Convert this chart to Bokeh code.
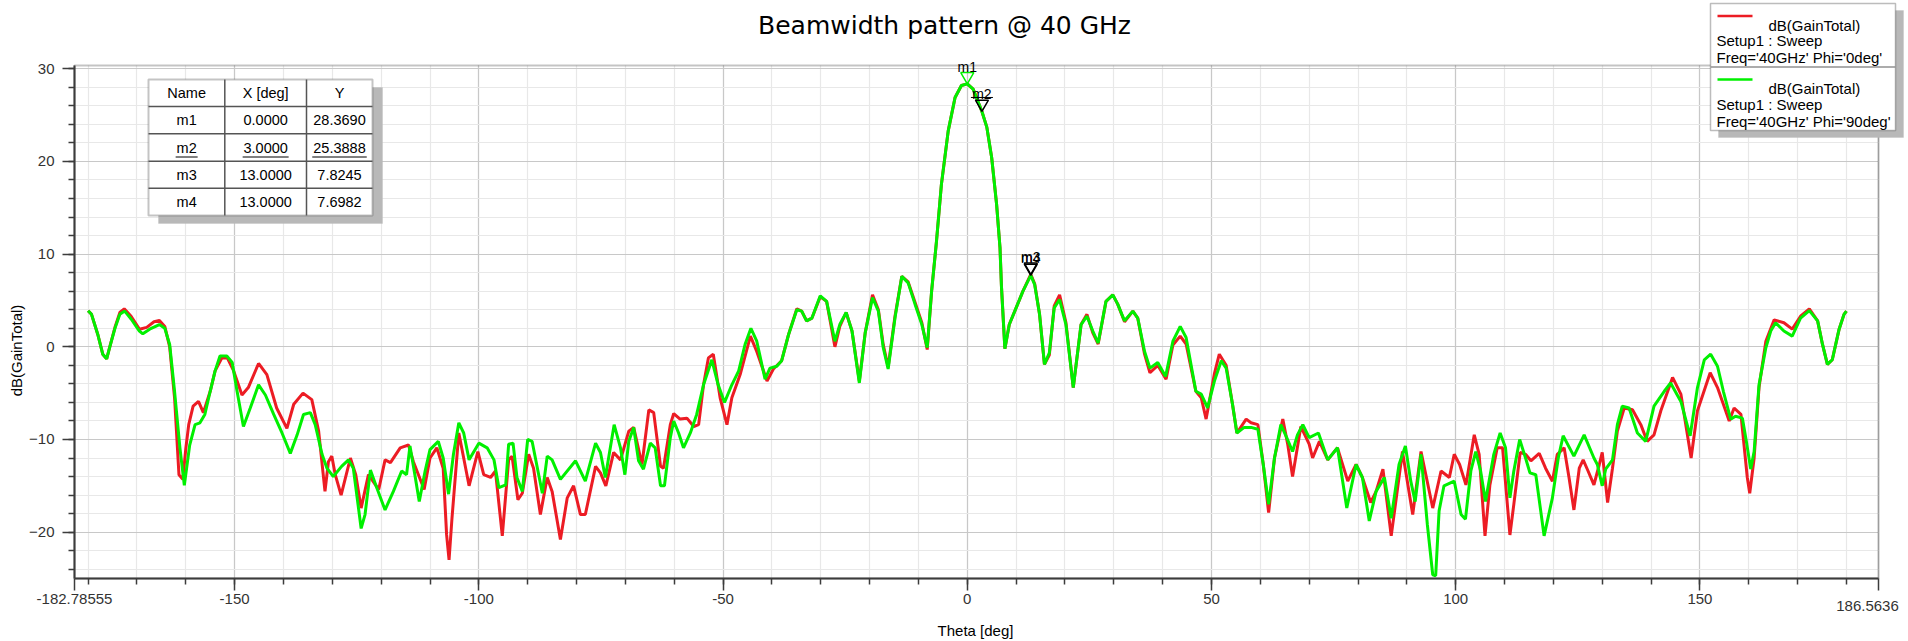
import math
from bokeh.plotting import figure
from bokeh.models import (Range1d, FixedTicker, CustomJSTickFormatter, Label,
                          BoxAnnotation, Arrow, Grid)
from bokeh.embed import file_html
from bokeh.resources import INLINE

# ---------------- data ----------------
theta_phi0 = [-180, -179.3, -178, -177, -176.2, -175.6, -174.5, -173.5, -172.6, -171.2,
              -169.5, -168, -166.5, -165.4, -164.3, -163.3, -162.3, -161.4, -160.6, -160.0,
              -159.4, -158.5, -157.4, -156.4, -155, -154, -152.6, -151.5, -150.2, -148.5,
              -147.2, -145.1, -143.4, -141.4, -139.3, -137.9, -136, -134.2, -132.8, -131.5,
              -130.8, -130.1, -129.4, -128.2, -126.3, -125.2, -124.1, -122.6, -120.5, -119.2,
              -118.1, -116.1, -114.4, -113.4, -111.2, -110, -108.6, -107.3, -106.6, -106.1,
              -105.5, -104.1, -102, -100.2, -99, -97.6, -96.6, -95.2, -93.9, -93.2,
              -92, -91.1, -89.8, -88.8, -87.4, -86, -85, -83.3, -81.9, -80.6,
              -79.2, -78.2, -76.1, -75.1, -74, -72.4, -71, -69.3, -68.3, -66.6,
              -65.2, -64.2, -62.8, -62.2, -60.8, -60.1, -58.8, -57.4, -56.0, -55,
              -54, -53, -52, -50.6, -49.2, -48.2, -46.5, -44.4, -43.1, -41.0,
              -39.7, -38, -36.6, -34.9, -33.9, -32.9, -31.8, -30.1, -28.8, -27.1,
              -26.1, -24.8, -23.6, -22.1, -20.9, -19.4, -18.2, -17.2, -16.2, -14.8,
              -13.4, -12.1, -10.7, -9.3, -8.2, -7.3, -6.3, -5.3, -3.9, -2.5,
              -1.2, 0, 1.2, 3, 4.0, 5.0, 6.0, 6.7, 7.0, 7.7,
              8.6, 10, 11.4, 13, 13.8, 14.8, 15.8, 16.8, 17.8, 18.9,
              20.2, 21.7, 23.3, 24.5, 25.7, 26.8, 28.4, 29.8, 30.8, 32.2,
              33.9, 34.9, 36.3, 37.4, 39, 40.7, 42.1, 43.6, 44.8, 46.8,
              47.9, 48.9, 50.6, 51.6, 53, 54.3, 55.2, 57.1, 58.1, 59.5,
              60.6, 61.7, 62.9, 64.6, 65.6, 66.6, 68.3, 70, 70.7, 72.1,
              73.8, 75.8, 77.9, 79.6, 80.9, 82.6, 83.7, 85.1, 86.8, 89.1,
              91.2, 92.9, 95.3, 97, 98.7, 99.7, 100.8, 102.1, 103.8, 104.8,
              106, 107, 108.5, 109.6, 111.1, 111.9, 113.2, 114.3, 115.4, 117.1,
              118.4, 119.8, 120.8, 122.2, 123.2, 124.2, 125.3, 126.1, 127.1, 128.3,
              129.4, 130, 131.1, 132.1, 133.1, 134.5, 136.2, 137.9, 139.2, 140.6,
              142, 144.4, 146.1, 148.2, 149.5, 152.1, 153.6, 156, 157, 158.4,
              159.7, 160.2, 161.1, 162.1, 163.5, 165.2, 167.2, 168.9, 170.6, 172.4,
              174.1, 175.1, 176.1, 177.1, 178.5, 179.5, 180]
gain_phi0 = [3.9, 3.5, 1.3, -0.8, -1.3, -0.1, 2.1, 3.7, 4.1, 3.3,
             1.9, 2.1, 2.7, 2.85, 2.2, 0.0, -5.5, -13.8, -14.3, -11.0,
             -8.4, -6.4, -5.9, -7.1, -4.8, -2.6, -1.2, -1.2, -2.6, -5.2,
             -4.4, -1.8, -3.0, -6.6, -8.8, -6.2, -5.0, -5.7, -9.1, -15.6,
             -12.4, -11.8, -13.8, -16.0, -12.0, -13.8, -17.4, -13.8, -15.4, -12.2,
             -12.5, -10.9, -10.6, -12.4, -15.4, -12.0, -10.9, -13.1, -20.3, -23.0,
             -18.5, -9.3, -15.0, -11.3, -13.8, -14.1, -13.4, -20.4, -12.2, -11.8,
             -16.5, -15.8, -11.6, -13.1, -18.1, -14.1, -15.6, -20.8, -16.3, -15.0,
             -18.1, -18.1, -12.9, -13.6, -15.0, -11.4, -12.2, -9.1, -8.7, -12.7,
             -6.8, -7.1, -12.9, -13.1, -8.4, -7.2, -7.8, -7.7, -8.6, -8.4,
             -4.1, -1.2, -0.8, -5.5, -8.4, -5.5, -3.0, 1.15, -0.5, -3.7,
             -2.4, -1.5, 1.3, 4.1, 3.85, 2.8, 3.1, 5.4, 4.9, 0.0,
             2.2, 3.7, 1.7, -3.7, 1.5, 5.6, 4.0, 0.2, -2.2, 3.3,
             7.6, 7.0, 4.8, 2.6, -0.3, 6.0, 11.4, 17.5, 23.3, 26.9,
             28.2, 28.369, 27.8, 25.3888, 23.7, 20.4, 15.4, 10.7, 6.5, -0.2,
             2.4, 4.2, 6.0, 7.8245, 6.8, 3.5, -1.9, -0.9, 4.4, 5.6,
             2.6, -4.4, 2.4, 3.5, 1.5, 0.3, 4.9, 5.6, 4.6, 2.7,
             3.85, 3.1, -0.8, -2.8, -2.0, -3.5, 0.2, 1.15, 0.3, -4.8,
             -5.5, -7.8, -2.9, -0.8, -2.0, -6.2, -9.3, -7.8, -8.2, -8.4,
             -12.7, -17.9, -12.0, -7.8, -10.5, -14.0, -8.6, -10.5, -12.0, -10.2,
             -12.2, -10.9, -14.5, -12.7, -14.1, -16.8, -15.6, -13.2, -20.4, -11.3,
             -18.1, -11.3, -17.4, -13.4, -14.1, -11.6, -12.7, -14.9, -9.5, -11.6,
             -20.4, -14.9, -10.9, -10.9, -20.3, -17.0, -11.4, -11.6, -12.3, -11.5,
             -13.1, -14.5, -11.6, -10.9, -14.1, -17.6, -13.1, -12.2, -13.4, -14.9,
             -12.7, -11.4, -16.8, -13.1, -9.1, -6.6, -6.8, -8.4, -10.2, -9.5,
             -6.9, -3.3, -5.1, -12.0, -6.9, -2.8, -4.4, -8.0, -6.6, -7.3,
             -14.1, -15.8, -12.0, -4.4, 0.6, 2.9, 2.6, 1.9, 3.3, 4.1,
             2.8, 0.25, -1.9, -1.4, 1.9, 3.5, 3.85]

theta_phi90 = [-180, -179.3, -178, -177, -176.2, -175.6, -174.5, -173.5, -172.5, -171.2,
               -169.5, -168.8, -167.4, -165.4, -164.3, -163.3, -162.3, -161.2, -160.3, -159.2,
               -158.1, -157.1, -156.1, -155, -154, -153, -151.6, -150.5, -149.5, -148.2,
               -146.8, -145.1, -143.7, -142, -140.3, -138.6, -137.2, -135.9, -134.5, -133.5,
               -132.1, -131.1, -129.8, -128.1, -126.7, -125.7, -124.1, -123.3, -122.2, -120.9,
               -119.2, -117.5, -115.8, -114.8, -114.1, -113.1, -112.2, -111.0, -110, -108.3,
               -107.3, -106.2, -105.2, -104.1, -103.1, -102, -100, -98.3, -96.9, -95.9,
               -94.5, -93.9, -93, -92.2, -91.1, -90, -89.1, -87.0, -86, -85,
               -83.3, -80.2, -78.2, -76.1, -75.1, -74.1, -72.3, -71, -70.1, -69.3,
               -68.3, -67.3, -66.3, -64.9, -63.9, -62.8, -62, -60.8, -60.1, -59.1,
               -58.1, -56.7, -55.4, -54, -52.3, -51, -49.7, -48.2, -46.8, -45.5,
               -44.3, -43.1, -41.4, -40.4, -39, -38, -36.6, -34.9, -33.9, -32.9,
               -31.8, -30.1, -28.8, -27.1, -26.1, -24.8, -23.6, -22.1, -20.9, -19.4,
               -18.2, -17.2, -16.2, -14.8, -13.4, -12.1, -10.7, -9.3, -8.2, -7.3,
               -6.3, -5.3, -3.9, -2.5, -1.2, 0, 1.2, 3, 4.0, 5.0,
               6.0, 6.7, 7.0, 7.7, 8.6, 10, 11.4, 13, 13.8, 14.8,
               15.8, 16.8, 17.8, 18.9, 20.2, 21.7, 23.3, 24.5, 25.7, 26.8,
               28.4, 29.8, 30.8, 32.2, 33.9, 34.9, 36.3, 37.4, 39, 40.6,
               42.1, 43.6, 44.8, 46.8, 47.9, 49.2, 50.6, 52, 53, 54.3,
               55.2, 56.7, 58.1, 59.5, 60.6, 61.7, 62.9, 64.2, 65.4, 66.6,
               67.6, 68.7, 70, 71.9, 73.8, 75.8, 77.7, 79.6, 80.9, 82.3,
               83.7, 85.4, 86.8, 88.4, 89.7, 90.8, 91.7, 92.9, 94.2, 95.3,
               95.9, 96.6, 97.6, 99.7, 101.1, 102, 103.1, 104.1, 105.1, 106.1,
               107.8, 109.1, 110.2, 111.1, 111.9, 113.1, 114.3, 115.2, 116.4, 118.1,
               119.8, 121, 122.0, 124.2, 126.3, 128.3, 129, 130, 130.7, 132.1,
               133.1, 134.1, 135.5, 137.2, 138.9, 140.6, 142.7, 144, 146.1, 148,
               149.5, 150.9, 152.2, 153.6, 154.8, 156.3, 157.3, 158.7, 159.6, 160.4,
               161.1, 162.1, 163.5, 164.5, 165.5, 167.2, 168.9, 170.6, 172.4, 174.1,
               175.1, 176.1, 177.1, 178.5, 179.5, 180]
gain_phi90 = [3.9, 3.5, 1.3, -0.8, -1.3, -0.1, 2.0, 3.5, 3.85, 3.0,
              1.7, 1.4, 1.9, 2.4, 2.0, 0.25, -4.8, -10.9, -14.95, -10.6,
              -8.4, -8.2, -7.3, -4.8, -2.6, -1.0, -1.0, -1.7, -4.8, -8.6,
              -6.6, -4.1, -5.2, -7.3, -9.3, -11.5, -9.5, -7.3, -7.1, -8.4,
              -11.6, -13.1, -14.0, -12.9, -12.2, -13.1, -19.6, -18.1, -13.3, -15.2,
              -17.6, -15.6, -13.4, -13.8, -10.7, -13.8, -16.7, -13.4, -11.1, -10.2,
              -12.0, -15.9, -11.6, -8.2, -9.3, -12.2, -10.4, -10.9, -12.2, -15.2,
              -14.9, -10.5, -10.4, -14.1, -15.6, -10.0, -10.2, -15.8, -11.8, -12.2,
              -14.3, -12.3, -14.5, -10.4, -11.4, -14.1, -8.4, -10.9, -13.8, -10.2,
              -8.7, -12.3, -13.2, -10.4, -10.9, -15.0, -15.0, -9.8, -8.0, -9.3,
              -10.9, -9.3, -7.3, -4.1, -1.4, -4.1, -6.0, -4.1, -2.6, 0.25,
              2.0, 0.6, -3.5, -2.3, -2.1, -1.5, 1.3, 4.0, 3.85, 2.8,
              3.1, 5.5, 4.9, 0.6, 2.4, 3.7, 1.7, -3.9, 1.5, 5.3,
              3.85, -0.1, -2.4, 3.1, 7.6, 6.9, 4.6, 2.4, -0.1, 6.0,
              11.4, 17.5, 23.3, 26.9, 28.2, 28.369, 27.8, 25.3888, 23.7, 20.4,
              15.4, 10.7, 6.5, -0.2, 2.4, 4.2, 6.0, 7.6982, 6.7, 3.5,
              -1.9, -0.65, 4.2, 5.1, 2.4, -4.4, 2.4, 3.3, 1.7, 0.4,
              4.9, 5.6, 4.6, 2.8, 3.85, 3.1, -0.5, -2.3, -1.7, -3.2,
              0.6, 2.2, 1.0, -4.8, -5.1, -6.6, -3.7, -1.5, -2.3, -6.2,
              -9.3, -8.7, -8.7, -8.9, -12.7, -17.0, -12.0, -8.4, -9.8, -11.3,
              -9.5, -8.4, -9.8, -9.3, -12.2, -10.9, -17.4, -12.7, -14.1, -18.8,
              -15.6, -14.1, -18.5, -12.7, -10.7, -14.5, -16.7, -11.6, -19.2, -24.6,
              -24.7, -17.7, -15.0, -14.5, -18.1, -18.6, -13.4, -11.3, -13.4, -16.7,
              -11.6, -9.3, -10.9, -16.3, -13.4, -10.0, -12.0, -13.6, -13.8, -20.4,
              -16.3, -12.0, -9.6, -11.8, -9.5, -12.0, -12.7, -15.0, -13.2, -12.2,
              -8.4, -6.4, -6.6, -9.3, -10.2, -6.4, -4.8, -3.9, -5.9, -9.6,
              -4.4, -1.4, -0.8, -2.1, -4.8, -7.8, -7.5, -7.7, -10.5, -13.2,
              -11.3, -4.1, -0.1, 1.7, 2.6, 1.7, 1.15, 3.1, 3.9, 2.8,
              0.25, -1.9, -1.4, 1.9, 3.5, 3.85]

# markers (name, theta, value)
marker_names = ["m1", "m2", "m3", "m4"]
marker_x = [0.0, 3.0, 13.0, 13.0]
marker_y = [28.3690, 25.3888, 7.8245, 7.6982]

# axis ticks
x_major_ticks = [-182.78555, -150, -100, -50, 0, 50, 100, 150, 186.5636]
x_tick_labels = ["-182.78555", "-150", "-100", "-50", "0", "50", "100", "150", "186.5636"]
x_minor_ticks = list(range(-180, 181, 10))
y_major_ticks = [-20, -10, 0, 10, 20, 30]
y_minor_ticks = list(range(-24, 31, 2))

title_text = "Beamwidth pattern @ 40 GHz"
x_label_text = "Theta [deg]"
y_label_text = "dB(GainTotal)"
legend_entries = [("dB(GainTotal)", "Setup1 : Sweep", "Freq='40GHz' Phi='0deg'"),
                  ("dB(GainTotal)", "Setup1 : Sweep", "Freq='40GHz' Phi='90deg'")]

# ---------------- layout (page pixels) ----------------
XMIN, XMAX = -182.78555, 186.5636
YMIN, YMAX = -25.0, 30.35
W, H = 1908, 641
PL, PR, PT, PB = 74, 1878, 65, 578     # data area in page pixels
KX = (PR - PL) / (XMAX - XMIN)
KY = (PB - PT) / (YMAX - YMIN)
RED = "#ec1c24"
GREEN = "#00f000"
FONT = "Liberation Sans"
DARK = "#3c3c3c"


def Y(page_y):
    """page y (down) -> screen y (up from bottom)"""
    return H - page_y


p = figure(width=W, height=H, title=None,
           x_range=Range1d(XMIN - PL / KX, XMAX + (W - PR) / KX),
           y_range=Range1d(YMIN - (H - PB) / KY, YMAX + PT / KY),
           output_backend="svg", toolbar_location=None,
           min_border=0, min_border_left=0, min_border_right=0,
           min_border_top=0, min_border_bottom=0)
p.background_fill_color = "white"
p.border_fill_color = "white"
p.outline_line_color = None

xt = FixedTicker(ticks=x_major_ticks, minor_ticks=x_minor_ticks)
yt = FixedTicker(ticks=y_major_ticks, minor_ticks=y_minor_ticks)
p.xaxis.ticker = xt
p.yaxis.ticker = yt
p.xaxis.fixed_location = YMIN
p.yaxis.fixed_location = XMIN
p.xaxis.bounds = (XMIN, XMAX)
p.yaxis.bounds = (YMIN, YMAX)

has_cross = "cross_bounds" in Grid.properties()
p.xgrid.ticker = xt
p.ygrid.ticker = yt
p.xgrid.bounds = (XMIN, XMAX)
p.ygrid.bounds = (YMIN, YMAX)
if has_cross:
    p.xgrid.cross_bounds = (YMIN, YMAX)
    p.ygrid.cross_bounds = (XMIN, XMAX)
for g in (p.xgrid, p.ygrid):
    g.grid_line_color = "#c8c8c8"
    g.grid_line_width = 1.2
    g.minor_grid_line_color = "#e8e8e8"
    g.minor_grid_line_width = 1.2

if not has_cross:
    # white masks over the margins (drawn above the grid, below the curves)
    for l, r, t, b in [(0, PL, 0, H), (PR, W, 0, H), (0, W, 0, PT), (0, W, PB, H)]:
        p.add_layout(BoxAnnotation(left=l, right=r, top=Y(t), bottom=Y(b),
                                   left_units="screen", right_units="screen",
                                   top_units="screen", bottom_units="screen",
                                   fill_color="white", fill_alpha=1, line_alpha=0,
                                   level="underlay"))

p.xaxis.formatter = CustomJSTickFormatter(
    args=dict(tvals=x_major_ticks, tlabels=x_tick_labels), code="""
const i = tvals.findIndex(t => Math.abs(t - tick) < 1e-6);
if (i < 0 || i == tvals.length - 1) return "";
return tlabels[i];
""")

for ax in (p.xaxis, p.yaxis):
    ax.axis_line_color = DARK
    ax.axis_line_width = 2
    ax.major_tick_line_color = DARK
    ax.minor_tick_line_color = DARK
    ax.major_tick_line_width = 1.5
    ax.minor_tick_line_width = 1.5
    ax.major_tick_in = 0
    ax.minor_tick_in = 0
    ax.major_tick_out = 12
    ax.minor_tick_out = 6
    ax.major_label_text_font = FONT
    ax.major_label_text_font_size = "15px"
    ax.major_label_text_color = "#333333"
p.xaxis.major_label_standoff = 3
p.yaxis.major_label_standoff = 8

# frame border (top / right) of the data area
p.add_layout(BoxAnnotation(left=XMIN, right=XMAX, bottom=YMIN, top=YMAX,
                           fill_alpha=0, line_color=DARK, line_width=2, level="underlay"))

# curves
p.line(theta_phi0, gain_phi0, line_color=RED, line_width=3)
p.line(theta_phi90, gain_phi90, line_color=GREEN, line_width=3)

# marker triangles (tip on the data point)
TRI = 13
tip = TRI * math.sqrt(3) / 3
marker_colors = [GREEN, "black", "black", "black"]
p.scatter(marker_x, [y + tip / KY for y in marker_y],
          marker="inverted_triangle", size=TRI, fill_color=None,
          line_color=marker_colors, line_width=1.5)
for n, x, y in zip(marker_names, marker_x, marker_y):
    p.add_layout(Label(x=x, y=y, x_offset=0, y_offset=17, text=n, text_align="center",
                       text_baseline="alphabetic", text_font=FONT,
                       text_font_size="14px", text_color="black"))


def box(l, r, t, b, fill, line=None, lw=1):
    p.add_layout(BoxAnnotation(left=l, right=r, top=Y(t), bottom=Y(b),
                               left_units="screen", right_units="screen",
                               bottom_units="screen", top_units="screen",
                               fill_color=fill, fill_alpha=1.0,
                               line_color=line if line else fill, line_width=lw))


def seg(x0, y0, x1, y1, color, lw):
    p.add_layout(Arrow(end=None, x_start=x0, y_start=Y(y0), x_end=x1, y_end=Y(y1),
                       start_units="screen", end_units="screen",
                       line_color=color, line_width=lw))


def txt(x, y, s, size, align="left", baseline="alphabetic", font=FONT, angle=0.0, color="black"):
    p.add_layout(Label(x=x, y=Y(y), x_units="screen", y_units="screen", text=s,
                       text_align=align, text_baseline=baseline, text_font=font,
                       text_font_size=size, text_color=color, angle=angle))


# underline of the selected marker m2
ux = PL + (marker_x[1] - XMIN) * KX
uy = PB - (marker_y[1] - YMIN) * KY - 14
seg(ux - 11, uy, ux + 11, uy, "black", 1)

# ---------------- marker table ----------------
TL, TR, TT, TB = 148, 372, 79, 215
box(TL + 10, TR + 10, TT + 8, TB + 8, "#b8b8b8")
box(TL, TR, TT, TB, "white", DARK, 2)
col_x = [TL, 224.3, 306, TR]
row_y = [TT, 106, 133.3, 160.7, 187.7, TB]
for cx in col_x[1:-1]:
    seg(cx, TT, cx, TB, "#555555", 1.5)
for ry in row_y[1:-1]:
    seg(TL, ry, TR, ry, "#555555", 1.5)
headers = ["Name", "X [deg]", "Y"]
cols_c = [(col_x[i] + col_x[i + 1]) / 2 for i in range(3)]
for c, h in zip(cols_c, headers):
    txt(c, (row_y[0] + row_y[1]) / 2, h, "14.5px", "center", "middle")
for i, (n, x, y) in enumerate(zip(marker_names, marker_x, marker_y)):
    yy = (row_y[i + 1] + row_y[i + 2]) / 2
    vals = [n, "%.4f" % x, "%.4f" % y]
    for c, v in zip(cols_c, vals):
        txt(c, yy, v, "14.5px", "center", "middle")
    if i == 1:
        widths = [22, 46, 54.5]
        for c, w in zip(cols_c, widths):
            seg(c - w / 2, yy + 9.5, c + w / 2, yy + 9.5, "black", 1)

# ---------------- legend ----------------
LL, LR, LT, LB = 1710, 1895, 3, 130
box(LL + 8, LR + 8, LT + 7, LB + 7, "#b8b8b8")
box(LL, LR, LT, LB, "white", "#202020", 1.5)
seg(LL, LT + 63.5, LR, LT + 63.5, "#909090", 1.5)
for k, (l1, l2, l3) in enumerate(legend_entries):
    top = LT + 63.5 * k
    col = RED if k == 0 else GREEN
    seg(LL + 7, top + 12.5, LL + 42, top + 12.5, col, 2.5)
    txt(LL + 58, top + 21.5, l1, "15px")
    txt(LL + 6, top + 37, l2, "15px")
    txt(LL + 6, top + 54, l3, "15px")

# ---------------- titles ----------------
txt(944, 25, title_text, "25px", "center", "alphabetic", font="DejaVu Sans")
txt(975, 630, x_label_text, "15px", "center", "alphabetic")
txt(16, 350, y_label_text, "15px", "center", "middle", angle=math.pi / 2)
# right-end tick label, kept inside the window like the original
txt(1867, 605.5, x_tick_labels[-1], "15px", "center", "alphabetic", color="#333333")

open("out.html", "w").write(file_html(p, INLINE))
